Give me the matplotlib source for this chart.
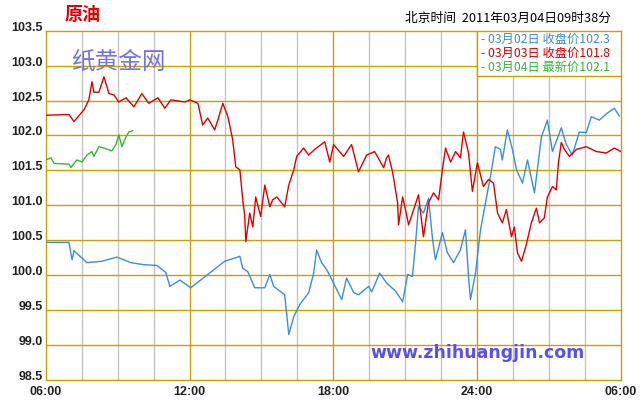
import numpy as np
import matplotlib
matplotlib.use("Agg")
import matplotlib.pyplot as plt
from matplotlib.patches import Rectangle

# hours after 06:00 and prices
blue_t = [0.0, 0.97, 1.1, 1.18, 1.72, 2.35, 2.97, 3.55, 4.1, 4.64, 5.01, 5.18, 5.6, 6.05,
          6.76, 7.47, 8.1, 8.22, 8.43, 8.72, 9.14, 9.35, 9.51, 9.97, 10.14, 10.35, 10.6,
          10.97, 11.18, 11.3, 11.51, 11.72, 11.93, 12.35, 12.55, 12.85, 13.05, 13.47, 13.6,
          13.93, 14.22, 14.6, 14.89, 15.1, 15.3, 15.43, 15.55, 15.76, 15.97, 16.14, 16.26,
          16.55, 16.76, 17.01, 17.3, 17.51, 17.64, 17.72, 17.93, 18.14, 18.35, 18.55, 18.76,
          18.97, 19.05, 19.26, 19.47, 19.64, 19.89, 20.1, 20.39, 20.68, 20.93, 21.14, 21.51,
          21.72, 21.97, 22.26, 22.55, 22.76, 23.09, 23.43, 23.72, 23.93]
blue_v = [100.47, 100.47, 100.22, 100.35, 100.18, 100.2, 100.26, 100.18, 100.15, 100.14,
          100.04, 99.84, 99.93, 99.82, 100.01, 100.2, 100.27, 100.1, 100.05, 99.82, 99.82,
          100.01, 99.84, 99.72, 99.15, 99.41, 99.58, 99.75, 100.03, 100.36, 100.18, 100.08,
          99.94, 99.65, 99.96, 99.75, 99.72, 99.84, 99.76, 100.03, 99.89, 99.77, 99.62,
          100.01, 99.98, 100.46, 100.98, 100.89, 101.1, 100.51, 100.22, 100.61, 100.32,
          100.18, 100.36, 100.65, 99.98, 99.65, 100.03, 100.65, 101.04, 101.41, 101.84,
          101.8, 101.65, 102.08, 101.8, 101.51, 101.32, 101.65, 101.18, 101.98, 102.22,
          101.77, 102.11, 101.87, 101.72, 102.05, 102.04, 102.27, 102.22, 102.32, 102.39,
          102.28]

red_t = [0.0, 0.97, 1.18, 1.6, 1.8, 1.93, 2.01, 2.22, 2.43, 2.64, 2.85, 3.05, 3.35, 3.68,
         4.01, 4.3, 4.68, 4.97, 5.22, 5.8, 6.01, 6.35, 6.55, 6.76, 7.05, 7.18, 7.39, 7.6,
         7.8, 7.93, 8.1, 8.22, 8.3, 8.35, 8.51, 8.64, 8.76, 8.97, 9.14, 9.35, 9.47, 9.64,
         9.97, 10.14, 10.35, 10.47, 10.76, 10.97, 11.22, 11.64, 11.85, 12.01, 12.43, 12.76,
         13.05, 13.39, 13.72, 14.1, 14.22, 14.3, 14.47, 14.68, 14.72, 14.89, 15.01, 15.14,
         15.35, 15.55, 15.76, 15.97, 16.18, 16.39, 16.55, 16.68, 16.89, 17.1, 17.3, 17.43,
         17.64, 17.8, 18.01, 18.26, 18.47, 18.68, 18.85, 19.05, 19.22, 19.43, 19.55, 19.68,
         19.85, 20.05, 20.26, 20.47, 20.6, 20.8, 20.93, 21.14, 21.3, 21.39, 21.51, 21.64,
         21.85, 22.14, 22.55, 22.97, 23.39, 23.72, 24.0]
red_v = [102.29, 102.3, 102.2, 102.37, 102.51, 102.77, 102.62, 102.62, 102.84, 102.6,
         102.58, 102.48, 102.54, 102.41, 102.6, 102.46, 102.54, 102.39, 102.51, 102.48,
         102.51, 102.46, 102.15, 102.25, 102.08, 102.22, 102.46, 102.27, 101.94, 101.55,
         101.51, 101.08, 100.86, 100.48, 100.89, 100.69, 101.12, 100.84, 101.29, 100.98,
         101.08, 101.12, 100.98, 101.29, 101.51, 101.7, 101.82, 101.72, 101.8, 101.91,
         101.62, 101.87, 101.7, 101.87, 101.48, 101.72, 101.77, 101.54, 101.68, 101.72,
         101.48, 101.04, 100.72, 101.12, 100.94, 100.72, 100.94, 101.15, 100.55, 101.04,
         101.18, 101.08, 101.51, 101.82, 101.62, 101.77, 101.68, 102.05, 101.75, 101.2,
         101.61, 101.27, 101.37, 101.32, 100.89, 100.75, 100.94, 100.55, 100.69, 100.32,
         100.2, 100.44, 100.75, 100.96, 100.75, 100.82, 101.12, 101.27, 101.22, 101.61,
         101.9, 101.8, 101.7, 101.8, 101.84, 101.77, 101.75, 101.82, 101.77]

green_t = [0.0, 0.22, 0.35, 0.97, 1.05, 1.3, 1.51, 1.72, 1.93, 2.01, 2.22, 2.51, 2.76,
           2.93, 3.05, 3.18, 3.35, 3.47, 3.63]
green_v = [101.65, 101.68, 101.6, 101.59, 101.54, 101.65, 101.62, 101.72, 101.77, 101.7,
           101.84, 101.81, 101.78, 101.87, 102.01, 101.84, 101.98, 102.05, 102.07]

x_ticks = [0, 6, 12, 18, 24]
x_labels = ["06:00", "12:00", "18:00", "24:00", "06:00"]
y_ticks = [98.5, 99.0, 99.5, 100.0, 100.5, 101.0, 101.5, 102.0, 102.5, 103.0, 103.5]

legend_rows = ["- 03月02日 收盘价102.3", "- 03月03日 收盘价101.8", "- 03月04日 最新价102.1"]

BLUE = "#3a8ee0"
RED = "#e00000"
GREEN = "#33b833"
GOLD = "#c8a000"
CJK = ["Noto Sans CJK SC", "DejaVu Sans"]

fig = plt.figure(figsize=(6.4, 4.0), dpi=100)
ax = fig.add_axes([45.7 / 640, 1 - 380 / 400, (621 - 45.7) / 640, (380 - 30.7) / 400])

ax.set_xlim(0, 24)
ax.set_ylim(98.5, 103.5)

# grey minor grid every 1.5 hours, gold major grid
for t in np.arange(1.5, 24, 1.5):
    if t % 6 != 0:
        ax.axvline(t, color="#c4c4c4", lw=1.0, zorder=1)
for t in x_ticks[1:-1]:
    ax.axvline(t, color=GOLD, lw=1.0, zorder=1)
for v in y_ticks[1:-1]:
    ax.axhline(v, color=GOLD, lw=1.0, zorder=1)
for s in ax.spines.values():
    s.set_color(GOLD)
    s.set_linewidth(1.0)

ax.plot(blue_t, blue_v, color=BLUE, lw=1.0, zorder=3)
ax.plot(red_t, red_v, color=RED, lw=1.0, zorder=3)
ax.plot(green_t, green_v, color=GREEN, lw=1.0, zorder=4)

ax.set_xticks(x_ticks)
ax.set_xticklabels(x_labels)
ax.set_yticks(y_ticks)
ax.set_yticklabels(["%.1f" % v for v in y_ticks])
ax.tick_params(length=0, labelsize=9, labelcolor="#222222")
ax.tick_params(axis="y", pad=2)
ax.tick_params(axis="x", pad=4)
for lab in ax.get_xticklabels() + ax.get_yticklabels():
    lab.set_fontweight("bold")
    lab.set_family("Liberation Sans")
for lab in ax.get_yticklabels():
    lab.set_verticalalignment("baseline")

# legend box
x0 = (477 - 45.7) / (621 - 45.7)
y0 = 1 - (76 - 30.7) / 350
ax.add_patch(Rectangle((x0, y0), 1 - x0, 1 - y0, transform=ax.transAxes,
                       facecolor="white", edgecolor=GOLD, lw=1.0, zorder=5))
for i, (txt, c) in enumerate(zip(legend_rows, [BLUE, RED, GREEN])):
    ax.text(0.756, 0.975 - i * 0.04, txt, transform=ax.transAxes, color=c,
            fontsize=8.8, family=CJK, va="center", ha="left", zorder=6)

# titles and watermarks
fig.text(65 / 640, 1 - 14 / 400, "原油", color=RED, fontsize=13, fontweight="bold",
         family=CJK, va="center", ha="left")
fig.text(611 / 640, 1 - 18 / 400, "北京时间  2011年03月04日09时38分", color="black",
         fontsize=9.2, family=CJK, va="center", ha="right")
fig.text(71 / 640, 1 - 62 / 400, "纸黄金网", color="#7474ea", fontsize=17,
         family=CJK, va="center", ha="left")
fig.text(478 / 640, 1 - 353 / 400, "www.zhihuangjin.com", color="#5a4ff0", fontsize=12.5,
         fontweight="bold", family="DejaVu Sans", va="center", ha="center")

fig.savefig("out.png", dpi=100, facecolor="white")
